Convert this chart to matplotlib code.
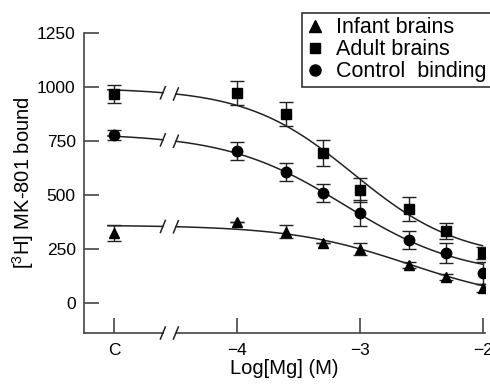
import matplotlib
matplotlib.use("Agg")
import matplotlib.pyplot as plt
from matplotlib.lines import Line2D
import numpy as np

plt.rcParams["font.family"] = ["Liberation Sans", "DejaVu Sans"]

# Mg concentrations (M); the control point sits one decade left of 1e-4
mg_molar = [1e-4, 2.5e-4, 5e-4, 1e-3, 2.5e-3, 5e-3, 1e-2]
control_pos = -5.0
x_ticks = [-5, -4, -3, -2]
x_ticklabels = ["C", "\u22124", "\u22123", "\u22122"]
y_ticks = [0, 250, 500, 750, 1000, 1250]

# first value = control (no Mg)
infant = [324, 375, 329, 278, 250, 176, 120, 69]
infant_err = [37, 0, 30, 0, 28, 12, 15, 17]
adult = [967, 972, 875, 694, 523, 435, 333, 231]
adult_err = [40, 55, 55, 60, 55, 55, 37, 28]
control = [778, 704, 606, 509, 417, 292, 231, 139]
control_err = [25, 40, 40, 40, 60, 40, 45, 50]

# fitted sigmoid curves: top, bottom, log EC50, hill slope
fit_infant = [360, 0, -2.6, 0.9]
fit_adult = [995, 200, -3.05, 1.0]
fit_control = [785, 120, -3.12, 0.9]

x_pts = [control_pos] + list(np.log10(mg_molar))
brk_lo, brk_hi = -4.602, -4.496


def sigmoid(x, p):
    top, bottom, ec50, hill = p
    return bottom + (top - bottom) / (1 + 10 ** ((x - ec50) * hill))


fig = plt.figure(figsize=(4.9, 3.85), dpi=100)
ax = fig.add_axes([84 / 490, 52 / 385, 401 / 490, 300 / 385])

series = [
    (infant, infant_err, fit_infant, "^", 7.5),
    (adult, adult_err, fit_adult, "s", 6.5),
    (control, control_err, fit_control, "o", 7.5),
]

for vals, err, fit, mk, ms in series:
    ax.errorbar(x_pts, vals, yerr=err, fmt=mk, ms=ms, color="black",
                ecolor="#222222", elinewidth=1, capsize=5, capthick=1, zorder=3)
    xa = np.linspace(-5.05, brk_lo, 20)
    xb = np.linspace(brk_hi, -2.0, 100)
    ax.plot(xa, sigmoid(xa, fit), color="#222222", lw=1.1)
    ax.plot(xb, sigmoid(xb, fit), color="#222222", lw=1.1)
    for xk in (brk_lo, brk_hi):
        yk = sigmoid(xk, fit)
        ax.plot([xk - 0.02, xk + 0.02], [yk - 28, yk + 28], color="#222222", lw=1.1)

ax.set_xlim(-5.244, -1.98)
ax.set_ylim(-139, 1250)

# broken x axis drawn by hand
ax.spines["bottom"].set_visible(False)
ax.spines["top"].set_visible(False)
ax.spines["right"].set_visible(False)
ax.spines["left"].set_color("#444444")
ax.spines["left"].set_linewidth(1.2)
tr = ax.get_xaxis_transform()
ax.plot([-5.244, brk_lo], [0, 0], transform=tr, color="#444444", lw=1.2, clip_on=False)
ax.plot([brk_hi, -1.98], [0, 0], transform=tr, color="#444444", lw=1.2, clip_on=False)
for xk in (brk_lo, brk_hi):
    ax.plot([xk - 0.02, xk + 0.02], [-0.02, 0.02], transform=tr,
            color="#222222", lw=1.1, clip_on=False)

ax.set_xticks(x_ticks)
ax.set_xticklabels(x_ticklabels)
ax.set_yticks(y_ticks)
ax.tick_params(axis="both", direction="in", length=11, width=1.2,
               color="#444444", labelsize=12.5)
ax.tick_params(axis="x", pad=7)
ax.tick_params(axis="y", pad=6)

ax.set_xlabel("Log[Mg] (M)", fontsize=14.5, labelpad=1)
ax.set_ylabel(r"[$\mathregular{^3}$H] MK-801 bound", fontsize=14.5, labelpad=1)

handles = [
    Line2D([], [], ls="none", marker="^", ms=8, color="black"),
    Line2D([], [], ls="none", marker="s", ms=6.5, color="black"),
    Line2D([], [], ls="none", marker="o", ms=8, color="black"),
]
leg = fig.legend(handles, ["Infant brains", "Adult brains", "Control  binding"],
                 loc="upper left", bbox_to_anchor=(302 / 490, 1 - 13 / 385),
                 fontsize=15.5, frameon=True, fancybox=False, handlelength=0.8,
                 handletextpad=0.6, borderpad=0.2, labelspacing=0.05,
                 borderaxespad=0)
leg.get_frame().set_edgecolor("black")
leg.get_frame().set_linewidth(1.2)

fig.savefig("out.png", dpi=100)
